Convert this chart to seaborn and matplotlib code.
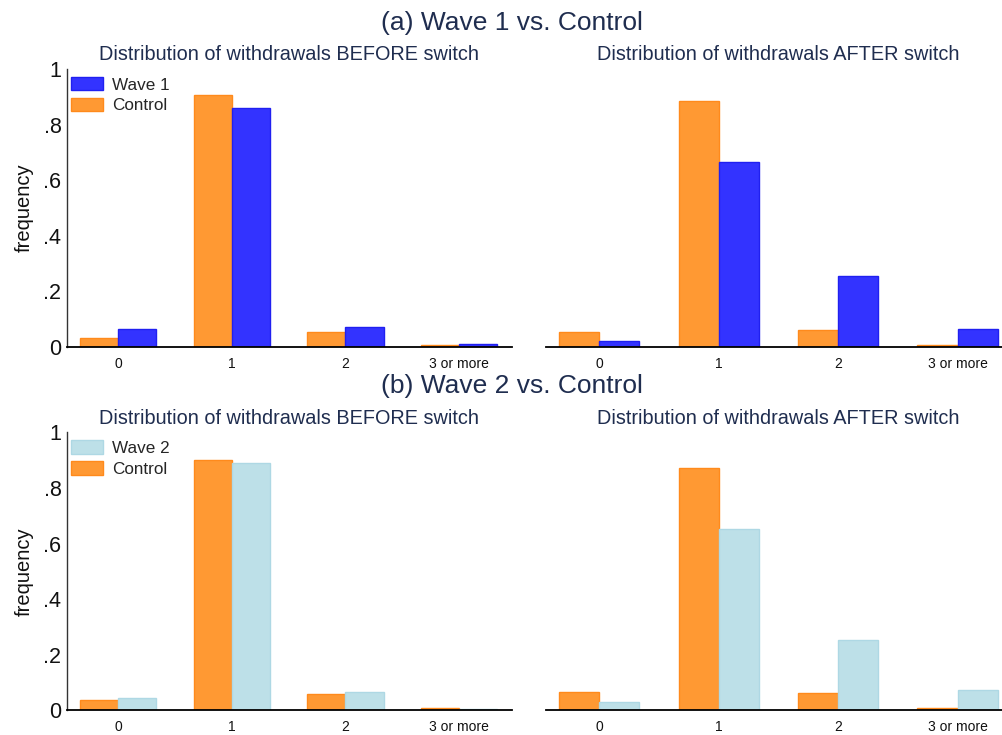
import matplotlib
matplotlib.use("Agg")
import matplotlib.pyplot as plt
import seaborn as sns
import pandas as pd
from matplotlib.patches import Patch

# ---- data ----
categories = ["0", "1", "2", "3 or more"]
ytick_vals = [0, 0.2, 0.4, 0.6, 0.8, 1.0]
ytick_labels = ["0", ".2", ".4", ".6", ".8", "1"]

w1_before_control = [0.033, 0.906, 0.055, 0.006]
w1_before_wave = [0.065, 0.858, 0.071, 0.010]
w1_after_control = [0.053, 0.885, 0.061, 0.006]
w1_after_wave = [0.022, 0.664, 0.254, 0.065]

w2_before_control = [0.037, 0.902, 0.060, 0.007]
w2_before_wave = [0.044, 0.890, 0.066, 0.005]
w2_after_control = [0.065, 0.872, 0.063, 0.007]
w2_after_wave = [0.030, 0.651, 0.252, 0.073]

row_titles = ["(a) Wave 1 vs. Control", "(b) Wave 2 vs. Control"]
col_titles = ["Distribution of withdrawals BEFORE switch",
              "Distribution of withdrawals AFTER switch"]
wave_names = ["Wave 1", "Wave 2"]

# ---- styles ----
sns.set_style("white")
plt.rcParams["font.family"] = ["Liberation Sans", "DejaVu Sans"]

orange_fill, orange_edge = "#FF9933", "#FF8A1C"
wave_fill = ["#3333FF", "#BDE0E8"]
wave_edge = ["#2020F0", "#AED8E4"]
navy = "#1f2d4f"

fig = plt.figure(figsize=(10.02, 7.35), dpi=100)
W, H = 1002.0, 735.0

rows = [
    (w1_before_control, w1_before_wave, w1_after_control, w1_after_wave),
    (w2_before_control, w2_before_wave, w2_after_control, w2_after_wave),
]
row_px = [(69.0, 347.0), (432.3, 710.3)]
col_px = [(67.0, 512.0), (546.0, 1004.0)]
col_xlim = [(-0.449, 3.465), (-0.444, 3.389)]
subtitle_cx = [289.0, 778.0]

for r in range(2):
    bc, bw, ac, aw = rows[r]
    top, bot = row_px[r]
    wname = wave_names[r]
    for c in range(2):
        left, right = col_px[c]
        ax = fig.add_axes([left / W, 1 - bot / H, (right - left) / W, (bot - top) / H])
        ctrl = bc if c == 0 else ac
        wav = bw if c == 0 else aw
        df = pd.DataFrame({
            "cat": categories * 2,
            "freq": list(ctrl) + list(wav),
            "group": ["Control"] * 4 + [wname] * 4,
        })
        sns.barplot(data=df, x="cat", y="freq", hue="group",
                    hue_order=["Control", wname], order=categories,
                    palette={"Control": orange_fill, wname: wave_fill[r]},
                    width=0.67, saturation=1, ax=ax, legend=False,
                    errorbar=None, linewidth=1.0)
        for cont, ec in zip(ax.containers, [orange_edge, wave_edge[r]]):
            for p in cont:
                p.set_edgecolor(ec)
                p.set_linewidth(1.0)
        ax.set_ylim(0, 1)
        ax.set_xlim(*col_xlim[c])
        ax.set_xlabel("")
        ax.set_ylabel("")
        for s in ["top", "right"]:
            ax.spines[s].set_visible(False)
        ax.spines["bottom"].set_color("black")
        ax.spines["bottom"].set_linewidth(1.3)
        ax.tick_params(axis="x", length=5, width=1, color="black",
                       labelsize=10, pad=2, labelcolor="#111111")
        if c == 0:
            ax.spines["left"].set_color("#333333")
            ax.spines["left"].set_linewidth(1.0)
            ax.set_yticks(ytick_vals)
            ax.set_yticklabels(ytick_labels)
            ax.tick_params(axis="y", length=0, labelsize=15.5, pad=4,
                           labelcolor="#111111")
            ax.set_ylabel("frequency", fontsize=14.5, labelpad=7, color="#111111")
            handles = [Patch(facecolor=wave_fill[r], edgecolor=wave_edge[r], label=wname),
                       Patch(facecolor=orange_fill, edgecolor=orange_edge, label="Control")]
            ax.legend(handles=handles, loc="upper left", bbox_to_anchor=(0.008, 0.972),
                      frameon=False, fontsize=12.3, handlelength=1.9, handleheight=0.85,
                      handletextpad=0.55, labelspacing=0.3, borderpad=0.0,
                      borderaxespad=0.0)
        else:
            ax.spines["left"].set_visible(False)
            ax.set_yticks([])
        fig.text(subtitle_cx[c] / W, 1 - (top - 14.0) / H, col_titles[c],
                 ha="center", va="center", fontsize=14.3, color=navy)
    fig.text(511.5 / W, 1 - (top - 46.0) / H, row_titles[r],
             ha="center", va="center", fontsize=19, color=navy)

fig.savefig("out.png", dpi=100, facecolor="white")
